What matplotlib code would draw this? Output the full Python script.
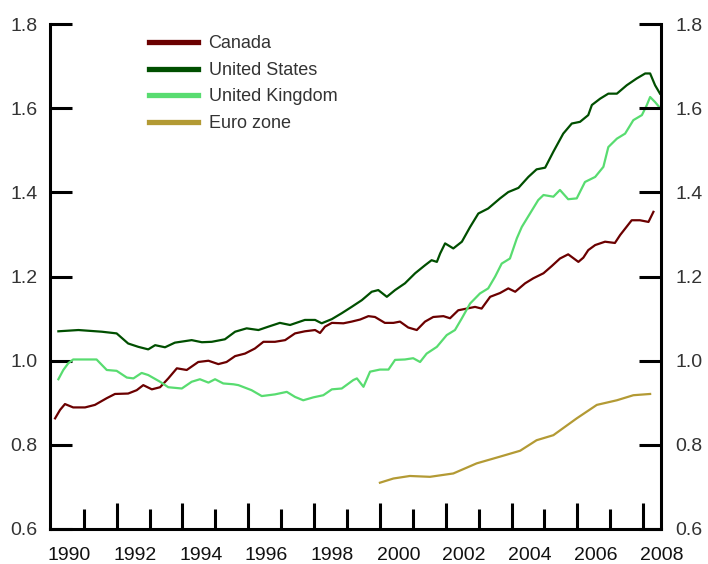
import matplotlib
matplotlib.use("Agg")
import matplotlib.pyplot as plt
from matplotlib.ticker import FixedLocator

# ---------------- data ----------------
canada_x = [1990.13, 1990.28, 1990.43, 1990.68, 1991.04, 1991.34, 1991.70, 1991.95, 1992.35, 1992.61,
            1992.81, 1993.07, 1993.32, 1993.57, 1993.83, 1994.13, 1994.48, 1994.79, 1995.09, 1995.34,
            1995.60, 1995.90, 1996.20, 1996.46, 1996.81, 1997.12, 1997.42, 1997.72, 1998.03, 1998.18,
            1998.33, 1998.54, 1998.89, 1999.14, 1999.40, 1999.65, 1999.85, 2000.15, 2000.41, 2000.61,
            2000.86, 2001.12, 2001.37, 2001.62, 2001.93, 2002.13, 2002.38, 2002.64, 2002.89, 2003.09,
            2003.35, 2003.65, 2003.90, 2004.11, 2004.41, 2004.66, 2004.97, 2005.22, 2005.47, 2005.72,
            2006.03, 2006.18, 2006.33, 2006.54, 2006.84, 2007.14, 2007.30, 2007.45, 2007.65, 2007.90,
            2008.16, 2008.31]
canada_y = [0.863, 0.883, 0.897, 0.889, 0.889, 0.895, 0.911, 0.921, 0.922, 0.930,
            0.942, 0.932, 0.937, 0.958, 0.982, 0.978, 0.997, 1.000, 0.992, 0.997,
            1.011, 1.017, 1.029, 1.045, 1.045, 1.049, 1.065, 1.070, 1.073, 1.066,
            1.081, 1.090, 1.089, 1.093, 1.098, 1.106, 1.104, 1.090, 1.090, 1.093,
            1.079, 1.073, 1.093, 1.104, 1.106, 1.101, 1.120, 1.124, 1.128, 1.124,
            1.152, 1.161, 1.172, 1.164, 1.184, 1.196, 1.208, 1.225, 1.243, 1.253,
            1.235, 1.245, 1.263, 1.275, 1.283, 1.280, 1.299, 1.314, 1.334, 1.334,
            1.330, 1.354]

us_x = [1990.23, 1990.84, 1991.55, 1992.00, 1992.35, 1992.66, 1992.96, 1993.17, 1993.47, 1993.77,
        1994.28, 1994.59, 1994.89, 1995.29, 1995.60, 1995.95, 1996.31, 1996.61, 1996.96, 1997.27,
        1997.72, 1998.03, 1998.23, 1998.54, 1998.84, 1999.14, 1999.45, 1999.75, 1999.95, 2000.21,
        2000.46, 2000.76, 2001.07, 2001.37, 2001.57, 2001.73, 2001.83, 2001.98, 2002.23, 2002.49,
        2002.74, 2002.99, 2003.29, 2003.65, 2003.90, 2004.21, 2004.51, 2004.76, 2005.02, 2005.27,
        2005.57, 2005.83, 2006.08, 2006.33, 2006.44, 2006.69, 2006.94, 2007.20, 2007.50, 2007.80,
        2008.06, 2008.21, 2008.36, 2008.51]
us_y = [1.070, 1.073, 1.069, 1.065, 1.041, 1.033, 1.027, 1.037, 1.032, 1.043,
        1.049, 1.044, 1.045, 1.051, 1.069, 1.077, 1.073, 1.081, 1.090, 1.085,
        1.097, 1.097, 1.089, 1.099, 1.113, 1.128, 1.144, 1.164, 1.168, 1.152,
        1.168, 1.184, 1.208, 1.227, 1.239, 1.235, 1.255, 1.279, 1.267, 1.283,
        1.318, 1.350, 1.362, 1.386, 1.401, 1.411, 1.437, 1.455, 1.459, 1.497,
        1.540, 1.564, 1.568, 1.584, 1.608, 1.623, 1.635, 1.635, 1.655, 1.671,
        1.683, 1.683, 1.655, 1.635]

uk_x = [1990.23, 1990.38, 1990.53, 1990.68, 1991.04, 1991.39, 1991.70, 1992.00, 1992.31, 1992.51,
        1992.76, 1992.96, 1993.32, 1993.57, 1993.98, 1994.28, 1994.53, 1994.79, 1994.99, 1995.24,
        1995.55, 1995.70, 1996.10, 1996.41, 1996.81, 1997.17, 1997.42, 1997.67, 1997.98, 1998.28,
        1998.54, 1998.84, 1999.19, 1999.30, 1999.50, 1999.70, 2000.00, 2000.26, 2000.46, 2000.76,
        2001.01, 2001.22, 2001.42, 2001.73, 2002.03, 2002.28, 2002.49, 2002.74, 2003.04, 2003.29,
        2003.50, 2003.70, 2003.95, 2004.16, 2004.31, 2004.56, 2004.81, 2004.97, 2005.27, 2005.47,
        2005.72, 2005.98, 2006.23, 2006.54, 2006.79, 2006.94, 2007.20, 2007.45, 2007.70, 2007.96,
        2008.11, 2008.21, 2008.36, 2008.49]
uk_y = [0.956, 0.978, 0.994, 1.003, 1.003, 1.003, 0.978, 0.976, 0.960, 0.958,
        0.971, 0.966, 0.950, 0.937, 0.934, 0.950, 0.956, 0.948, 0.956, 0.946,
        0.944, 0.942, 0.930, 0.916, 0.920, 0.926, 0.914, 0.906, 0.913, 0.918,
        0.932, 0.934, 0.954, 0.958, 0.938, 0.974, 0.979, 0.979, 1.002, 1.003,
        1.006, 0.997, 1.017, 1.033, 1.061, 1.073, 1.101, 1.136, 1.160, 1.172,
        1.200, 1.231, 1.243, 1.291, 1.318, 1.350, 1.382, 1.394, 1.390, 1.406,
        1.384, 1.386, 1.425, 1.437, 1.461, 1.508, 1.528, 1.540, 1.572, 1.584,
        1.608, 1.627, 1.615, 1.603]

euro_x = [2000.00, 2000.41, 2000.91, 2001.52, 2002.23, 2002.94, 2003.65, 2004.26, 2004.76, 2005.27,
          2005.98, 2006.59, 2007.20, 2007.70, 2008.21]
euro_y = [0.710, 0.720, 0.726, 0.724, 0.732, 0.756, 0.772, 0.786, 0.811, 0.823,
          0.863, 0.895, 0.906, 0.918, 0.921]

series_names = ["Canada", "United States", "United Kingdom", "Euro zone"]
series_colors = ["#6b0000", "#004f00", "#58dc70", "#b39a34"]

year_labels = ["1990", "1992", "1994", "1996", "1998", "2000", "2002", "2004", "2006", "2008"]
major_years = [1992, 1994, 1996, 1998, 2000, 2002, 2004, 2006, 2008]
minor_years = [1991, 1993, 1995, 1997, 1999, 2001, 2003, 2005, 2007]
y_ticks = [0.6, 0.8, 1.0, 1.2, 1.4, 1.6, 1.8]
y_tick_labels = ["0.6", "0.8", "1.0", "1.2", "1.4", "1.6", "1.8"]

# ---------------- figure ----------------
plt.rcParams["font.family"] = ["Liberation Sans", "DejaVu Sans"]
TXT = "#333333"

fig = plt.figure(figsize=(7.08, 5.64), dpi=100)
ax = fig.add_axes([0.0706, 0.0621, 0.8630, 0.8949])

xs = [canada_x, us_x, uk_x, euro_x]
ys = [canada_y, us_y, uk_y, euro_y]
for x, y, name, col in zip(xs, ys, series_names, series_colors):
    ax.plot(x, y, color=col, lw=1.6, label=name, solid_joinstyle="round")

ax.set_xlim(1989.975, 2008.54)
ax.set_ylim(0.6, 1.8)

# spines
for s in ["left", "bottom"]:
    ax.spines[s].set_linewidth(2.2)
    ax.spines[s].set_color("black")
ax.spines["top"].set_visible(False)
ax.spines["right"].set_visible(False)

# y axis (left)
ax.set_yticks(y_ticks)
ax.set_yticklabels(y_tick_labels)
ax.tick_params(axis="y", direction="in", length=15.6, width=2.2, pad=9,
               labelsize=14, labelcolor=TXT, color="black")

# right axis
ax2 = ax.twinx()
ax2.set_ylim(0.6, 1.8)
ax2.set_yticks(y_ticks)
ax2.set_yticklabels(y_tick_labels)
ax2.tick_params(axis="y", direction="in", length=15.6, width=2.2, pad=10.5,
                labelsize=14, labelcolor=TXT, color="black")
for s in ["left", "top", "bottom"]:
    ax2.spines[s].set_visible(False)
ax2.spines["right"].set_linewidth(2.2)

# x axis ticks
ax.xaxis.set_major_locator(FixedLocator(major_years))
ax.xaxis.set_minor_locator(FixedLocator(minor_years))
ax.tick_params(axis="x", which="major", direction="in", length=18.7, width=2.2,
               labelbottom=False)
ax.tick_params(axis="x", which="minor", direction="in", length=14.4, width=2.2,
               labelbottom=False)

label_years = [1990] + major_years
for yr, lab in zip(label_years, year_labels):
    ax.text(yr - 0.1, -0.036, lab, transform=ax.get_xaxis_transform(),
            ha="left", va="top", fontsize=14, color="#111111")

# legend
leg = ax.legend(loc="upper left", bbox_to_anchor=(0.162, 0.978), frameon=False,
                borderpad=0, borderaxespad=0, handlelength=2.7, handletextpad=0.6,
                labelspacing=0.53, fontsize=13, labelcolor=TXT)
for line in leg.get_lines():
    line.set_linewidth(3.8)

fig.savefig("out.png", dpi=100)
